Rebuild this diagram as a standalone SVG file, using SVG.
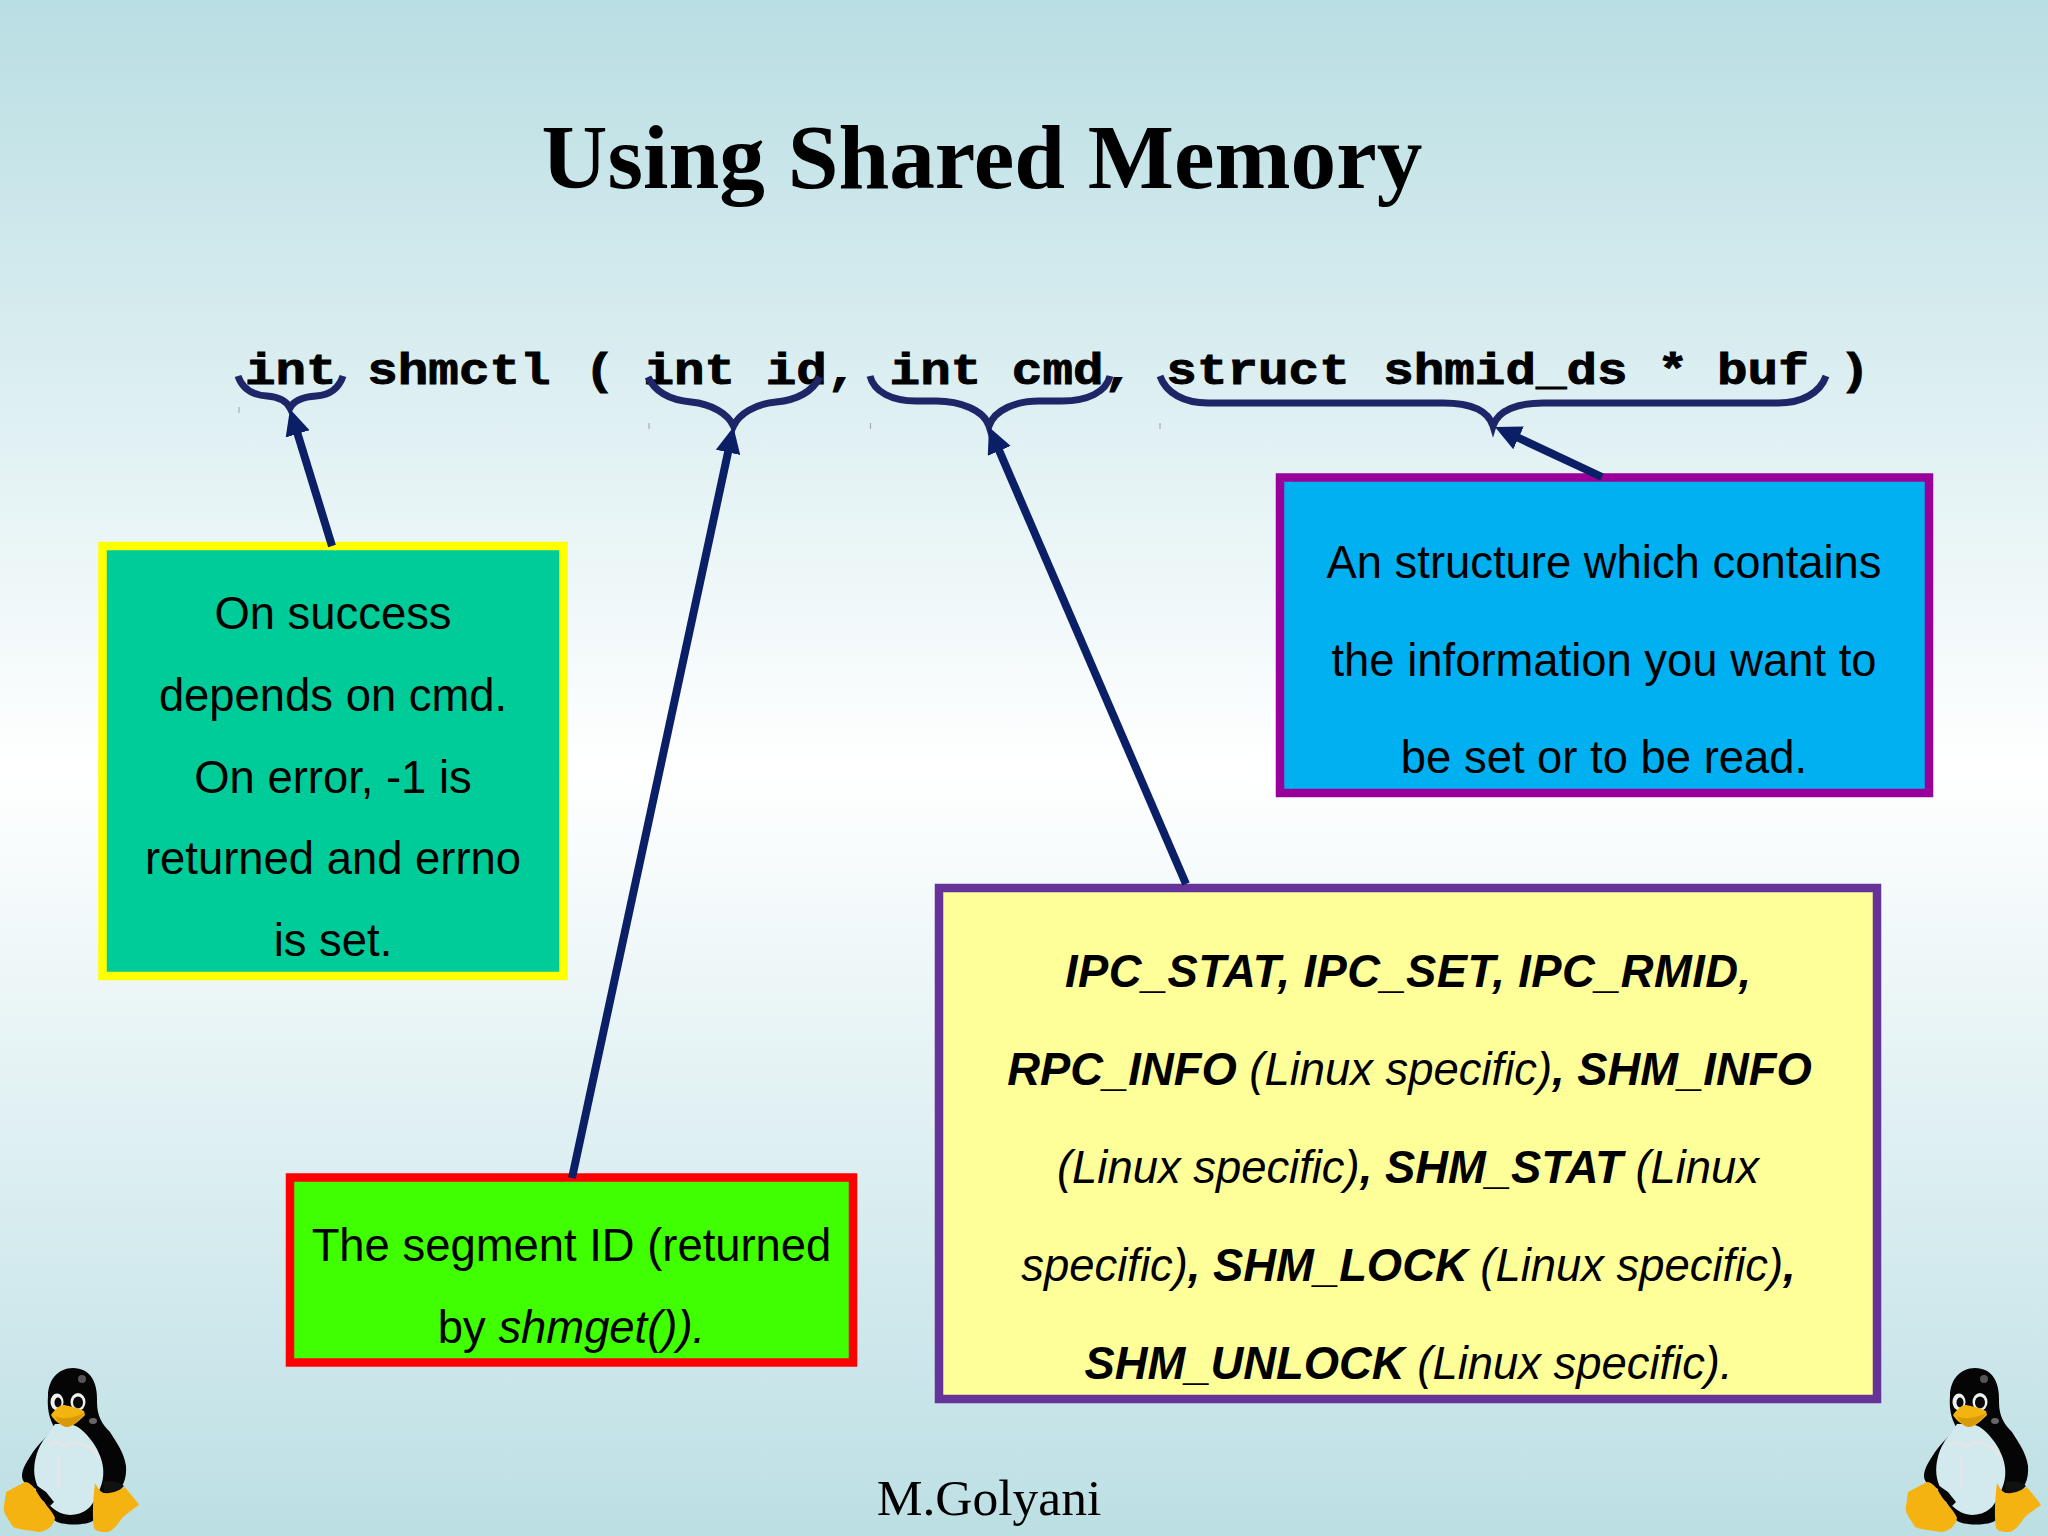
<svg xmlns="http://www.w3.org/2000/svg" width="2048" height="1536" viewBox="0 0 2048 1536">
<defs>
<linearGradient id="bg" x1="0" y1="0" x2="0" y2="1"><stop offset="0" stop-color="#b9dee3"/><stop offset="0.5" stop-color="#ffffff"/><stop offset="1" stop-color="#bcdfe4"/></linearGradient>
<marker id="arrow" markerUnits="userSpaceOnUse" markerWidth="30" markerHeight="30" refX="10" refY="12.5" orient="auto"><path d="M0 0L26 12.5L0 25Z" fill="#0a1f66"/></marker>
<g id="tux">
<path d="M73 28C58 28 48 40 48 56C47 68 49 78 54 87C48 96 40 102 33 112C28 120 22 128 22 136C22 144 30 146 38 150L54 180C60 186 88 186 94 180L113 153C122 150 127 140 126 126C124 112 116 102 110 92C102 84 97 76 97 62C98 42 90 28 73 28Z" fill="#050505"/>
<path d="M55 84C50 92 44 98 40 106C35 116 33 128 35 138C38 152 50 174 70 175C84 175 93 166 95 158C103 146 105 134 102 122C99 110 92 100 84 92C78 86 72 84 66 84Z" fill="#d2eaee"/>
<path d="M47 105L56 102L64 106L76 102L92 108L99 118M59 118V148M93 150V162" fill="none" stroke="#e6e6e6" stroke-width="2.5"/>
<path d="M36 145L46 152L54 162L50 166L36 156Z" fill="#050505"/>
<path d="M103 142C110 140 120 142 124 146L116 154L104 152Z" fill="#111"/>
<ellipse cx="82" cy="39" rx="4" ry="4" fill="#555"/><ellipse cx="93" cy="81" rx="4" ry="3" fill="#666"/>
<ellipse cx="57" cy="62" rx="6.500" ry="8.500" fill="#eef2f2"/><ellipse cx="78" cy="62" rx="7.500" ry="9" fill="#eef2f2"/>
<ellipse cx="58" cy="62.500" rx="3.500" ry="5" fill="#0a0a0a"/><ellipse cx="78" cy="62.500" rx="5" ry="6" fill="#0a0a0a"/>
<path d="M51 75C55 69 60 65 64 65C70 66 78 68 84 71L85 75C80 80 74 86 68 87C60 86 54 80 51 75Z" fill="#f3b40f"/>
<path d="M55 76C62 80 74 78 84 73C80 80 72 86 67 87C60 86 57 80 55 76Z" fill="#d99a0a"/>
<path d="M6 152L25 142C30 142 35 148 38 154C44 164 52 170 55 178C54 186 46 192 38 192C28 190 20 190 13 187C8 178 2 172 4 166Z" fill="#f4b311"/>
<path d="M95 143C98 148 100 152 104 153C112 154 120 150 125 147C130 154 136 160 139 165C132 170 126 174 122 178C118 184 114 190 108 192C102 192 96 192 94 188C92 176 93 158 95 143Z" fill="#f4b311"/>
</g>
<style>
text{fill:#000}
.b{font-family:"Liberation Sans",Arial,sans-serif;font-size:45.400px;text-anchor:middle}
.y{font-family:"Liberation Sans",Arial,sans-serif;font-size:45.400px;text-anchor:middle;font-style:italic}
.y tspan.k{font-weight:700}
.code{font-family:"Liberation Mono","Courier New",monospace;font-size:44px;font-weight:700;stroke:#000;stroke-width:.9}
.box{stroke-width:8.500}
.brace{fill:none;stroke:#1f2668;stroke-width:7}
.ar{stroke:#0a1f66;stroke-width:8;fill:none;marker-end:url(#arrow)}
.tick{stroke:#a0aeb4;stroke-width:1.200;fill:none}
</style>
</defs>
<rect width="2048" height="1536" fill="url(#bg)"/>
<text id="title" x="982" y="188" font-family="'Liberation Serif','Times New Roman',serif" font-size="91.300" font-weight="700" text-anchor="middle">Using Shared Memory</text>
<text id="signature" x="989" y="1514.500" font-family="'Liberation Serif','Times New Roman',serif" font-size="51.500" text-anchor="middle">M.Golyani</text>
<text id="prototype" class="code" transform="translate(245 383.500) scale(1.1576 1)" x="0" y="0" xml:space="preserve">int shmctl <tspan dx="3">(</tspan> <tspan dx="-2">int id,</tspan> <tspan dx="1.500">int cmd,</tspan> <tspan dx="1.500">struct</tspan> <tspan dx="2.500">shmid_ds</tspan> <tspan dx="-0.500">*</tspan> <tspan dx="-1.500">buf</tspan> )</text>
<g id="box-return"><rect class="box" x="102.500" y="546" width="461" height="430" fill="#00cc99" stroke="#ffff00"/>
<text class="b" x="333" y="629">On success</text><text class="b" x="333" y="711">depends on cmd.</text><text class="b" x="333" y="793">On error, -1 is</text><text class="b" x="333" y="874">returned and errno</text><text class="b" x="333" y="956">is set.</text></g>
<g id="box-id"><rect class="box" x="290" y="1177.500" width="563" height="185" fill="#40ff00" stroke="#ff0000"/>
<text class="b" x="571.500" y="1261">The segment ID (returned</text><text class="b" x="571.500" y="1343">by <tspan font-style="italic">shmget()).</tspan></text></g>
<g id="box-cmd"><rect class="box" x="939" y="888" width="938" height="511" fill="#ffff99" stroke="#663399"/>
<text class="y" x="1408" y="987" textLength="686"><tspan class="k">IPC_STAT, IPC_SET, IPC_RMID,</tspan></text>
<text class="y" x="1409.500" y="1085"><tspan class="k">RPC_INFO</tspan> (Linux specific)<tspan class="k">, SHM_INFO</tspan></text>
<text class="y" x="1408" y="1183">(Linux specific)<tspan class="k">, SHM_STAT</tspan> (Linux</text>
<text class="y" x="1408.500" y="1281">specific)<tspan class="k">, SHM_LOCK</tspan> (Linux specific)<tspan class="k">,</tspan></text>
<text class="y" x="1408.500" y="1379"><tspan class="k">SHM_UNLOCK</tspan> (Linux specific).</text></g>
<g id="box-buf"><rect class="box" x="1280" y="477.500" width="649" height="315.500" fill="#00b0f0" stroke="#990099"/>
<text class="b" x="1604" y="578">An structure which contains</text><text class="b" x="1604" y="676">the information you want to</text><text class="b" x="1604" y="773">be set or to be read.</text></g>
<g id="connectors">
<path class="brace" d="M238 376C242 388 252 395 267 396C279 397 287 402 290 408C293 402 301 397 316 396C331 395 339 388 343 376"/>
<path class="brace" d="M648 377C655 392 670 400 691 402C712 404 728 414 733.500 426C739 414 755 404 776 402C797 400 812 392 820 377"/>
<path class="brace" d="M870 376C874 392 892 401 916 401L936 401C960 401 984 410 989 426C994 410 1016 401 1039 401L1062 401C1088 401 1106 392 1110 376"/>
<path class="brace" d="M1160 376C1166 393 1184 403 1208 403L1443 403C1470 403 1488 410 1493 426C1498 410 1518 403 1543 403L1778 403C1802 403 1820 393 1826 376"/>
<path class="ar" d="M332 546L294.700 424.300"/>
<path class="ar" d="M572 1178L730.100 442.600"/>
<path class="ar" d="M1186 884L995.300 441.700"/>
<path class="ar" d="M1602 477L1509.500 433.700"/>
<path class="tick" d="M239 407v6M649 423v6M870.500 423v6M1160 423v6"/>
</g>
<use id="tux-left" href="#tux" x="0" y="1340"/>
<use id="tux-right" href="#tux" x="1902" y="1340"/>
</svg>
